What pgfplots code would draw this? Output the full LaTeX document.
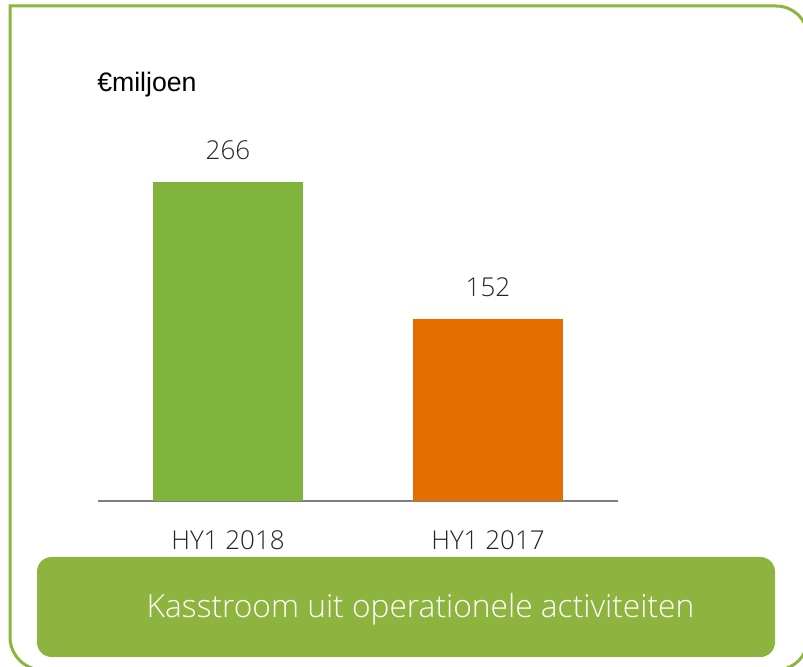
\documentclass[border=0pt]{standalone}
\usepackage{pgfplots}
\pgfplotsset{compat=1.18}
\usepackage{fontspec}
\setmainfont{Liberation Sans}
\newfontfamily\lightfont{Open Sans Light}
\definecolor{bargreen}{HTML}{80B43C}
\definecolor{barorange}{HTML}{E56E00}
\definecolor{boxgreen}{HTML}{8DB43E}
\definecolor{framegreen}{HTML}{8DB63C}
\definecolor{axisgray}{HTML}{7F7F7F}
\definecolor{txt}{HTML}{262626}
\begin{document}
\begin{tikzpicture}
\begin{scope}[x=0.75pt,y=0.75pt]
\clip (0,0) rectangle (803,667);
\draw[framegreen, line width=2.25pt] (10,661) -- (776,661) arc[start angle=90,end angle=0,radius=32] -- (808,29) arc[start angle=0,end angle=-90,radius=32] -- (43,-3) arc[start angle=270,end angle=180,radius=33] -- cycle;
\fill[boxgreen, rounded corners=11pt] (37,10) rectangle (775,110);
\node[white, anchor=base, inner sep=0pt, font=\lightfont\fontsize{23.8}{28}\selectfont] at (420.5,49) {Kasstroom uit operationele activiteiten};
\node[anchor=base west, inner sep=0pt, font=\fontsize{20}{24}\selectfont] at (97,575) {€miljoen};
\end{scope}
\begin{axis}[
  at={(73.5pt,124.5pt)}, anchor=south west,
  scale only axis, width=390pt, height=269.6pt,
  xmin=0.5, xmax=2.5, ymin=0, ymax=300,
  axis x line*=bottom, axis y line=none,
  x axis line style={draw=axisgray, line width=1.5pt, -},
  xtick={1,2}, xticklabels={HY1 2018, HY1 2017},
  major tick length=0pt, ytick=\empty,
  /pgf/number format/assume math mode=true,
  xticklabel style={font=\lightfont\fontsize{19.5}{24}\selectfont, text=txt, inner sep=0pt, anchor=north, yshift=-21.75pt},
  clip=false,
  nodes near coords,
  nodes near coords style={font=\lightfont\fontsize{19.5}{24}\selectfont, text=txt, inner sep=0pt, anchor=south, yshift=16.5pt},
]
\addplot[ybar, bar width=112.5pt, bar shift=0pt, fill=bargreen, draw=none] coordinates {(1,266)};
\addplot[ybar, bar width=112.5pt, bar shift=0pt, fill=barorange, draw=none] coordinates {(2,152)};
\end{axis}
\end{tikzpicture}
\end{document}
